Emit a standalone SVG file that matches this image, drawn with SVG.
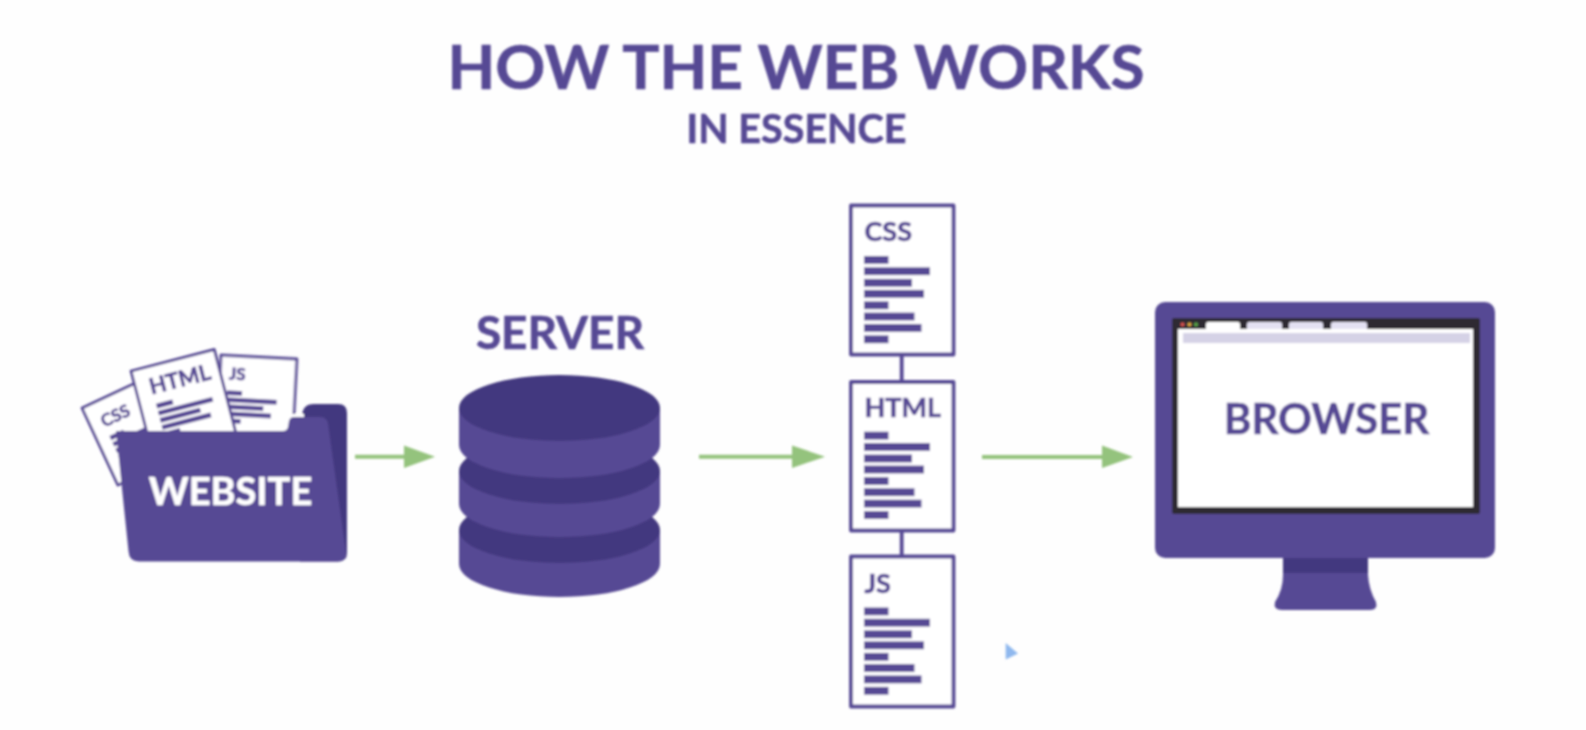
<svg xmlns="http://www.w3.org/2000/svg" width="1586" height="730" viewBox="0 0 1586 730">
<style>
text{font-family:Lato,"Liberation Sans",sans-serif;font-weight:700;fill:#574a94;stroke:#574a94;stroke-width:.6}
.doc{fill:#fff;stroke:#574a94;stroke-width:3.8;stroke-linejoin:round}
.paper{fill:#fff;stroke:#574a94;stroke-width:2.8;stroke-linejoin:round}
.bar{fill:#574a94}
.m{fill:#574a94}
.d{fill:#42387f}
.flow{stroke:#94c37d;stroke-width:4;fill:none}
.head{fill:#94c37d}
.tab{fill:#e3e0f2}
</style>
<defs>
<filter id="soft" x="0" y="0" width="1586" height="730" filterUnits="userSpaceOnUse"><feGaussianBlur stdDeviation="0.8"/></filter>
<g id="bars">
<rect class="bar" x="0" y="0" width="24.5" height="7.8"/>
<rect class="bar" x="0" y="11.3" width="66" height="7.8"/>
<rect class="bar" x="0" y="22.9" width="48" height="7.8"/>
<rect class="bar" x="0" y="33.9" width="60" height="7.8"/>
<rect class="bar" x="0" y="45.4" width="24.5" height="7.8"/>
<rect class="bar" x="0" y="56.6" width="50.5" height="7.8"/>
<rect class="bar" x="0" y="68" width="57.5" height="7.8"/>
<rect class="bar" x="0" y="79.4" width="24.5" height="7.8"/>
</g>
<g id="minibars">
<rect class="bar" x="0" y="0" width="15" height="4.6"/>
<rect class="bar" x="0" y="7" width="50" height="4.6"/>
<rect class="bar" x="0" y="14" width="37" height="4.6"/>
<rect class="bar" x="0" y="21" width="45" height="4.6"/>
<rect class="bar" x="0" y="28" width="15" height="4.6"/>
</g>
</defs>
<rect width="1586" height="730" fill="#fefefe"/>
<g filter="url(#soft)">
<g id="title">
<text x="796" y="89" font-size="62" text-anchor="middle">HOW THE WEB WORKS</text>
<text x="796.5" y="143" font-size="39.5" text-anchor="middle">IN ESSENCE</text>
</g>
<g id="connectors">
<path class="flow" d="M355 456.7H406"/><polygon class="head" points="404,445.5 435,456.7 404,468"/>
<path class="flow" d="M699 456.7H794"/><polygon class="head" points="792,445.5 825,456.7 792,468"/>
<path class="flow" d="M982 457H1104"/><polygon class="head" points="1102,445.5 1133,457 1102,468"/>
<path d="M901.7 355V381M901.7 531V556" stroke="#574a94" stroke-width="3.8" fill="none"/>
</g>
<g id="website">
<path class="d" d="M302 417Q302 404 314 404H338Q347 404 347 413V553Q347 561.5 338 561.5H300V430H302Z"/>
<g transform="translate(221 355) rotate(3)"><rect class="paper" width="76" height="90"/><text x="9" y="24" font-size="17">JS</text><use href="#minibars" transform="translate(8 35)"/></g>
<g transform="translate(82 408) rotate(-25)"><rect class="paper" width="66" height="85"/><text x="12" y="27" font-size="17">CSS</text><use href="#minibars" transform="translate(13 37)"/></g>
<g transform="translate(131 371) rotate(-14.5)"><rect class="paper" width="86" height="90"/><text x="14" y="28" font-size="22">HTML</text><use href="#minibars" transform="translate(16 38) scale(1.12 1.05)"/></g>
<path fill="#fff" d="M284 429L289 414H304V432H284Z"/>
<path class="m" d="M116 431H283Q287 431 288 427L289 421Q290 417 294 417H320Q327 417 328 424L346 553Q346 561.5 338 561.5H139Q129 561.5 128.5 551Z"/>
<text x="230.5" y="505" font-size="38" text-anchor="middle" style="fill:#fff;stroke:#fff">WEBSITE</text>
</g>
<g id="server">
<text x="560" y="349" font-size="46" text-anchor="middle">SERVER</text>
<path class="m" d="M459 530V564A100.5 33 0 0 0 660 564V530Z"/>
<ellipse class="d" cx="559.5" cy="530" rx="100.5" ry="33"/>
<path class="m" d="M459 471V504A100.5 33 0 0 0 660 504V471Z"/>
<ellipse class="d" cx="559.5" cy="471" rx="100.5" ry="33"/>
<path class="m" d="M459 408V445A100.5 33 0 0 0 660 445V408Z"/>
<ellipse class="d" cx="559.5" cy="408" rx="100.5" ry="33"/>
</g>
<g id="doc-css">
<rect class="doc" x="851" y="205.5" width="102.5" height="149"/>
<text x="864.5" y="241" font-size="27">CSS</text>
<use href="#bars" x="864" y="256"/>
</g>
<g id="doc-html">
<rect class="doc" x="851" y="382" width="102.5" height="148.5"/>
<text x="864.5" y="417" font-size="27">HTML</text>
<use href="#bars" x="864" y="431.7"/>
</g>
<g id="doc-js">
<rect class="doc" x="851" y="556.5" width="102.5" height="150"/>
<text x="864.5" y="593" font-size="27">JS</text>
<use href="#bars" x="864" y="607.5"/>
</g>
<g id="browser">
<path class="m" d="M1283 556H1368V575Q1369 590 1376 602Q1378 610 1370 610H1282Q1273 610 1275 602Q1283 590 1283 575Z"/>
<rect class="d" x="1283" y="558" width="85" height="15"/>
<rect class="m" x="1155" y="302" width="340" height="256" rx="10"/>
<rect x="1172" y="318" width="308" height="196" rx="2" fill="#2e2b33"/>
<rect x="1178" y="329" width="295" height="178" fill="#fff"/>
<rect x="1183" y="333" width="287" height="10" fill="#d5d2e6"/>
<path d="M1206 329V324Q1206 322 1208 322H1238Q1240 322 1240 324V329Z" fill="#fff"/>
<path class="tab" d="M1247 329V324Q1247 322 1249 322H1280Q1282 322 1282 324V329Z"/>
<path class="tab" d="M1289 329V324Q1289 322 1291 322H1321Q1323 322 1323 324V329Z"/>
<path class="tab" d="M1331 329V324Q1331 322 1333 322H1365Q1367 322 1367 324V329Z"/>
<circle cx="1182.5" cy="324.5" r="2" fill="#d9534f"/><circle cx="1189.5" cy="324.5" r="2" fill="#e0a93a"/><circle cx="1196" cy="324.5" r="2" fill="#5aa84a"/>
<text x="1326.5" y="434" font-size="42" text-anchor="middle">BROWSER</text>
</g>
<polygon id="cursor" points="1005.7,643 1018,653.5 1005.7,659.5" fill="#8fb8ee"/>
</g>
</svg>
